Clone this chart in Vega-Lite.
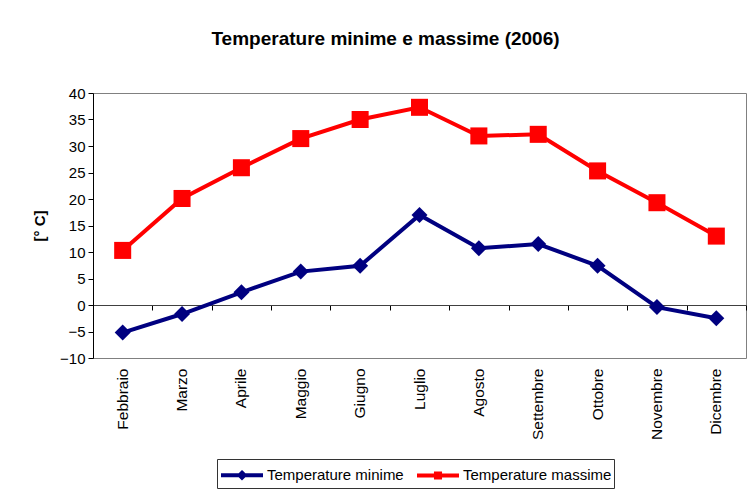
{
  "$schema": "https://vega.github.io/schema/vega-lite/v6.json",
  "width": 653,
  "height": 265,
  "autosize": {"type": "none"},
  "padding": {"left": 93, "top": 93, "right": 7, "bottom": 132},
  "background": "white",
  "config": {"font": "Liberation Sans", "view": {"stroke": "#808080", "strokeWidth": 1}},
  "title": {"text": "Temperature minime e massime (2006)", "fontSize": 19, "fontWeight": "bold", "color": "black", "anchor": "middle", "dx": -34, "offset": 22, "baseline": "alphabetic"},
  "data": {"values": [
    {"mese": "Febbraio", "serie": "Temperature minime", "valore": -5.2},
    {"mese": "Marzo", "serie": "Temperature minime", "valore": -1.7},
    {"mese": "Aprile", "serie": "Temperature minime", "valore": 2.4},
    {"mese": "Maggio", "serie": "Temperature minime", "valore": 6.3},
    {"mese": "Giugno", "serie": "Temperature minime", "valore": 7.4},
    {"mese": "Luglio", "serie": "Temperature minime", "valore": 17.0},
    {"mese": "Agosto", "serie": "Temperature minime", "valore": 10.7},
    {"mese": "Settembre", "serie": "Temperature minime", "valore": 11.5},
    {"mese": "Ottobre", "serie": "Temperature minime", "valore": 7.4},
    {"mese": "Novembre", "serie": "Temperature minime", "valore": -0.4},
    {"mese": "Dicembre", "serie": "Temperature minime", "valore": -2.5},
    {"mese": "Febbraio", "serie": "Temperature massime", "valore": 10.3},
    {"mese": "Marzo", "serie": "Temperature massime", "valore": 20.1},
    {"mese": "Aprile", "serie": "Temperature massime", "valore": 25.9},
    {"mese": "Maggio", "serie": "Temperature massime", "valore": 31.4},
    {"mese": "Giugno", "serie": "Temperature massime", "valore": 35.0},
    {"mese": "Luglio", "serie": "Temperature massime", "valore": 37.3},
    {"mese": "Agosto", "serie": "Temperature massime", "valore": 31.9},
    {"mese": "Settembre", "serie": "Temperature massime", "valore": 32.2},
    {"mese": "Ottobre", "serie": "Temperature massime", "valore": 25.3},
    {"mese": "Novembre", "serie": "Temperature massime", "valore": 19.3},
    {"mese": "Dicembre", "serie": "Temperature massime", "valore": 13.0}
  ]},
  "encoding": {
    "y": {"field": "valore", "type": "quantitative",
      "scale": {"domain": [-10, 40], "nice": false, "zero": false},
      "axis": {"title": "[° C]", "titleFontSize": 15, "titleFontWeight": "bold", "titleColor": "black", "titlePadding": 12,
        "values": [-10, -5, 0, 5, 10, 15, 20, 25, 30, 35, 40], "grid": false,
        "domainColor": "black", "tickColor": "black", "tickSize": 5, "labelFontSize": 15, "labelColor": "black", "labelPadding": 3}},
    "color": {"field": "serie", "type": "nominal",
      "scale": {"domain": ["Temperature minime", "Temperature massime"], "range": ["#000080", "#FF0000"]},
      "legend": {"orient": "none", "legendX": 124, "legendY": 366, "direction": "horizontal", "title": null,
        "strokeColor": "#333333", "fillColor": "white", "padding": 2, "symbolSize": 576, "symbolStrokeWidth": 4,
        "labelOffset": 20, "columnPadding": 5, "labelFontSize": 15, "labelColor": "black", "labelLimit": 300,
        "encode": {"symbols": {"update": {
          "shape": {"signal": "datum.value === 'Temperature minime' ? 'M-1,0L2.5,0M0.75,-0.21L0.96,0L0.75,0.21L0.54,0Z' : 'M-1,0L2.5,0M0.58,-0.17L0.92,-0.17L0.92,0.17L0.58,0.17Z'"},
          "fill": {"scale": "color", "field": "value"},
          "stroke": {"scale": "color", "field": "value"},
          "strokeWidth": {"value": 4},
          "opacity": {"value": 1}}}}}}
  },
  "layer": [
    {
      "mark": {"type": "line", "strokeWidth": 4},
      "encoding": {
        "x": {"field": "mese", "type": "nominal", "bandPosition": 0.5,
          "sort": ["Febbraio", "Marzo", "Aprile", "Maggio", "Giugno", "Luglio", "Agosto", "Settembre", "Ottobre", "Novembre", "Dicembre"],
          "scale": {"type": "band", "paddingInner": 0, "paddingOuter": 0},
          "axis": {"orient": "bottom", "title": null, "domain": false, "ticks": false, "labelAngle": -90, "labelPadding": 10, "labelFontSize": 15.5, "labelColor": "black"}}
      }
    },
    {
      "transform": [{"filter": "datum.serie === 'Temperature minime'"}],
      "mark": {"type": "point", "filled": true, "opacity": 1, "shape": "diamond", "size": 256},
      "encoding": {
        "x": {"field": "mese", "type": "nominal", "bandPosition": 0.5,
          "sort": ["Febbraio", "Marzo", "Aprile", "Maggio", "Giugno", "Luglio", "Agosto", "Settembre", "Ottobre", "Novembre", "Dicembre"],
          "scale": {"type": "band", "paddingInner": 0, "paddingOuter": 0},
          "axis": {"orient": "bottom", "offset": -53, "title": null, "labels": false, "domain": true, "domainColor": "#404040", "ticks": true, "tickColor": "black", "tickSize": 5, "tickBand": "extent"}}
      }
    },
    {
      "transform": [{"filter": "datum.serie === 'Temperature massime'"}],
      "mark": {"type": "point", "filled": true, "opacity": 1, "shape": "square", "size": 290},
      "encoding": {
        "x": {"field": "mese", "type": "nominal", "bandPosition": 0.5,
          "sort": ["Febbraio", "Marzo", "Aprile", "Maggio", "Giugno", "Luglio", "Agosto", "Settembre", "Ottobre", "Novembre", "Dicembre"],
          "scale": {"type": "band", "paddingInner": 0, "paddingOuter": 0},
          "axis": null}
      }
    }
  ],
  "resolve": {"axis": {"x": "independent"}}
}
